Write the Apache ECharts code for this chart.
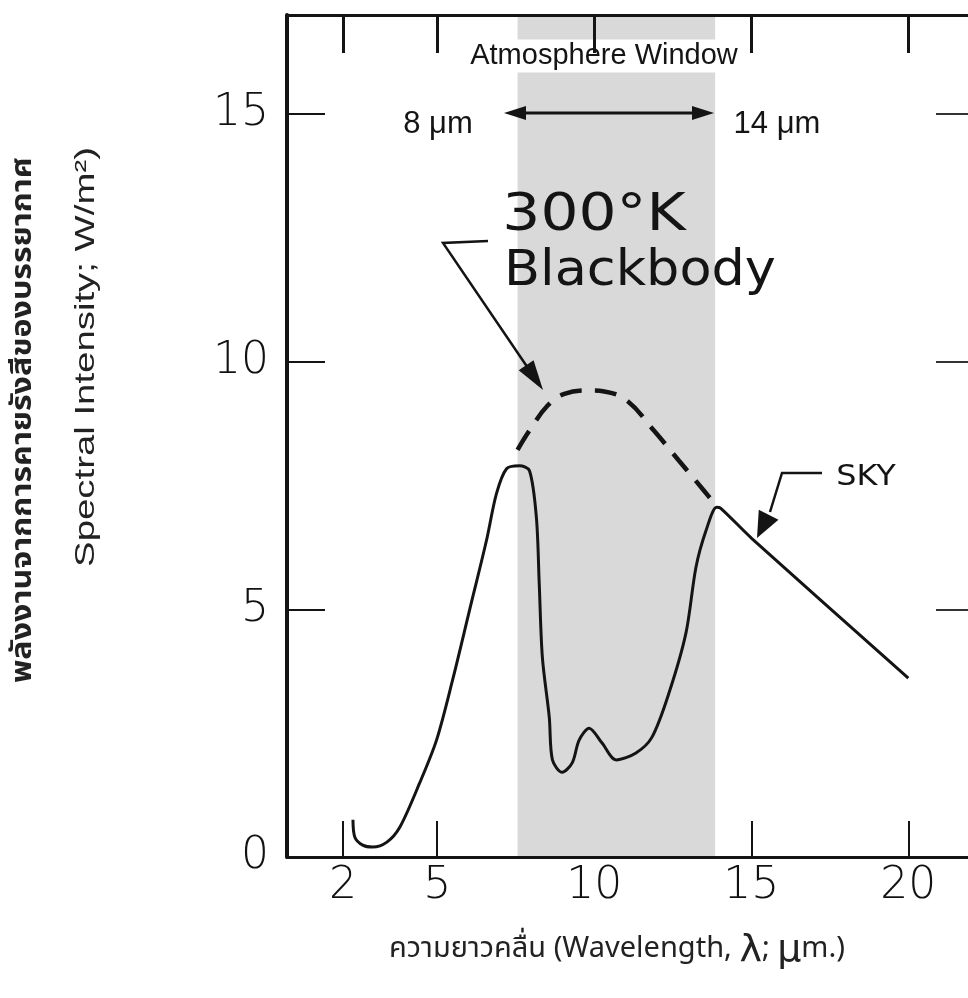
<!DOCTYPE html>
<html>
<head>
<meta charset="UTF-8">
<title>Atmosphere Window</title>
<script src="https://cdn.jsdelivr.net/npm/echarts@6/dist/echarts.min.js"></script>
</head>
<body style="margin:0;background:#fff">
<div id="chart" style="width:968px;height:998px;"></div>
<script>
// tick values
var xTicks = [2, 5, 10, 15, 20];
var xTicksBottom = [2, 5, 15, 20];
var yTicks = [0, 5, 10, 15];
var yTicksRight = [5, 10, 15];
// atmosphere window (shaded band), µm
var windowRange = [7.56, 13.85];
// measured sky emission, [wavelength µm, W/m2]
var skyData = [
  [2.32, 0.75], [2.38, 0.40], [2.63, 0.24], [2.95, 0.20], [3.40, 0.30], [3.81, 0.60],
  [4.44, 1.49], [4.98, 2.36], [5.49, 3.57], [6.03, 4.98], [6.57, 6.39], [6.89, 7.34],
  [7.21, 7.84], [7.62, 7.90], [7.94, 7.80], [8.16, 6.85], [8.25, 5.52], [8.35, 4.03],
  [8.57, 2.82], [8.67, 1.96], [8.98, 1.71], [9.30, 1.90], [9.52, 2.36], [9.84, 2.60],
  [10.25, 2.30], [10.70, 1.96], [11.33, 2.10], [11.84, 2.42], [12.38, 3.31], [12.92, 4.52],
  [13.24, 5.85], [13.56, 6.59], [13.90, 7.06], [14.03, 7.04], [15.02, 6.43], [20.0, 3.61]
];
// 300 K blackbody (dashed part)
var blackbodyData = [
  [7.56, 8.22], [7.94, 8.61], [8.51, 9.11], [9.05, 9.35], [9.84, 9.42], [10.32, 9.40],
  [11.05, 9.21], [11.9, 8.61], [12.7, 8.0], [13.49, 7.40], [13.9, 7.08]
];

var chart = echarts.init(document.getElementById('chart'));
var ink = '#141414';
var numFont = 'DejaVu Sans';
var thaiFont = "'Noto Sans Thai', 'Noto Sans', 'Liberation Sans', sans-serif";

function tri(p, q, len, w) {
  // arrow head at p, pointing from q to p
  var dx = p[0] - q[0], dy = p[1] - q[1];
  var d = Math.sqrt(dx * dx + dy * dy);
  var ux = dx / d, uy = dy / d;
  var bx = p[0] - ux * len, by = p[1] - uy * len;
  return {
    type: 'polygon', z: 110,
    shape: { points: [p, [bx - uy * w, by + ux * w], [bx + uy * w, by - ux * w]] },
    style: { fill: ink }
  };
}

var option = {
  animation: false,
  grid: { left: 287, right: 0, top: 15, bottom: 141 },
  xAxis: [
    {
      type: 'value', min: 0.22, max: 21.9, position: 'bottom', z: 10,
      axisLine: { onZero: false, lineStyle: { color: ink, width: 3 } },
      axisTick: { show: true, inside: true, length: 36, customValues: xTicksBottom, lineStyle: { color: ink, width: 2 } },
      axisLabel: { customValues: xTicks, margin: 8, fontSize: 44, color: '#111', fontFamily: numFont, fontWeight: 'lighter' },
      splitLine: { show: false }
    },
    {
      type: 'value', min: 0.22, max: 21.9, position: 'top', z: 10,
      axisLine: { show: true, onZero: false, lineStyle: { color: ink, width: 3 } },
      axisTick: { show: true, inside: true, length: 38, customValues: xTicks, lineStyle: { color: ink, width: 3 } },
      axisLabel: { show: false },
      splitLine: { show: false }
    }
  ],
  yAxis: [
    {
      type: 'value', min: 0, max: 17, position: 'left', z: 10,
      axisLine: { show: true, onZero: false, lineStyle: { color: ink, width: 4 } },
      axisTick: { show: true, inside: true, length: 38, customValues: yTicks, lineStyle: { color: ink, width: 2 } },
      axisLabel: { customValues: yTicks, margin: 18, fontSize: 44, color: '#111', fontFamily: numFont, fontWeight: 'lighter' },
      splitLine: { show: false }
    },
    {
      type: 'value', min: 0, max: 17, position: 'right', z: 10,
      axisLine: { show: false, onZero: false },
      axisTick: { show: true, inside: true, length: 32, customValues: yTicksRight, lineStyle: { color: '#333', width: 2 } },
      axisLabel: { show: false },
      splitLine: { show: false }
    }
  ],
  series: [
    {
      name: 'window', type: 'line', data: [], z: 1,
      markArea: {
        silent: true,
        itemStyle: { color: '#d9d9d9' },
        data: [[{ xAxis: windowRange[0] }, { xAxis: windowRange[1] }]]
      }
    },
    {
      name: 'Blackbody', type: 'line', data: blackbodyData, smooth: 0.4, symbol: 'none', z: 3,
      lineStyle: { color: ink, width: 4.5, type: [22, 13] }
    },
    {
      name: 'SKY', type: 'line', data: skyData, smooth: 0.3, symbol: 'none', z: 4,
      lineStyle: { color: ink, width: 3 }
    }
  ],
  graphic: [
    // axis titles
    {
      type: 'text', x: 25, y: 420, rotation: Math.PI / 2, scaleX: 1.15, z: 100,
      style: { text: 'พลังงานจากการคายรังสีของบรรยากาศ', font: 'bold 28px ' + thaiFont, fill: '#222', textAlign: 'center', textVerticalAlign: 'middle' }
    },
    {
      type: 'text', x: 86, y: 357, rotation: Math.PI / 2, scaleX: 1.37, z: 100,
      style: { text: 'Spectral Intensity; W/m²)', font: "28px 'Liberation Sans', Arial, sans-serif", fill: '#222', textAlign: 'center', textVerticalAlign: 'middle' }
    },
    {
      type: 'text', x: 617, y: 951, z: 100,
      style: {
        text: 'ความยาวคลื่น (Wavelength, {g|λ}; {g|μ}m.)',
        font: '29px ' + thaiFont, fill: '#222', textAlign: 'center', textVerticalAlign: 'middle',
        rich: { g: { fontSize: 38, fontFamily: 'DejaVu Sans', fill: '#222' } }
      }
    },
    // window annotation (white patch sits under the axis ticks)
    {
      type: 'text', x: 604, y: 56, z: 5,
      style: { text: 'Atmosphere Window', font: "29px 'Liberation Sans', Arial, sans-serif", fill: ink, textAlign: 'center', textVerticalAlign: 'middle', backgroundColor: '#fff', padding: [2, 4] }
    },
    {
      type: 'text', x: 438, y: 124, z: 100,
      style: { text: '8 μm', font: "31px 'Liberation Sans', Arial, sans-serif", fill: ink, textAlign: 'center', textVerticalAlign: 'middle' }
    },
    {
      type: 'text', x: 777, y: 124, z: 100,
      style: { text: '14 μm', font: "31px 'Liberation Sans', Arial, sans-serif", fill: ink, textAlign: 'center', textVerticalAlign: 'middle' }
    },
    { type: 'line', z: 105, shape: { x1: 515, y1: 113, x2: 703, y2: 113 }, style: { stroke: ink, lineWidth: 3 } },
    tri([504, 113], [530, 113], 22, 7),
    tri([714, 113], [690, 113], 22, 7),
    // blackbody label
    {
      type: 'text', x: 594, y: 216, z: 100, scaleX: 1.15,
      style: { text: '300°K', font: "52px 'DejaVu Sans', sans-serif", fill: ink, textAlign: 'center', textVerticalAlign: 'middle' }
    },
    {
      type: 'text', x: 640, y: 272, z: 100, scaleX: 1.05,
      style: { text: 'Blackbody', font: "50px 'DejaVu Sans', sans-serif", fill: ink, textAlign: 'center', textVerticalAlign: 'middle' }
    },
    { type: 'polyline', z: 105, shape: { points: [[488, 241], [443, 243], [530, 371]] }, style: { stroke: ink, lineWidth: 2.5, fill: null } },
    tri([543, 390], [443, 243], 30, 9),
    // sky label
    {
      type: 'text', x: 866, y: 477, z: 100, scaleX: 1.1,
      style: { text: 'SKY', font: "29px 'DejaVu Sans', sans-serif", fill: ink, textAlign: 'center', textVerticalAlign: 'middle' }
    },
    { type: 'polyline', z: 105, shape: { points: [[822, 473], [782, 473], [770, 512]] }, style: { stroke: ink, lineWidth: 2.5, fill: null } },
    tri([757, 538], [776, 500], 26, 11)
  ]
};

chart.setOption(option);
</script>
</body>
</html>
